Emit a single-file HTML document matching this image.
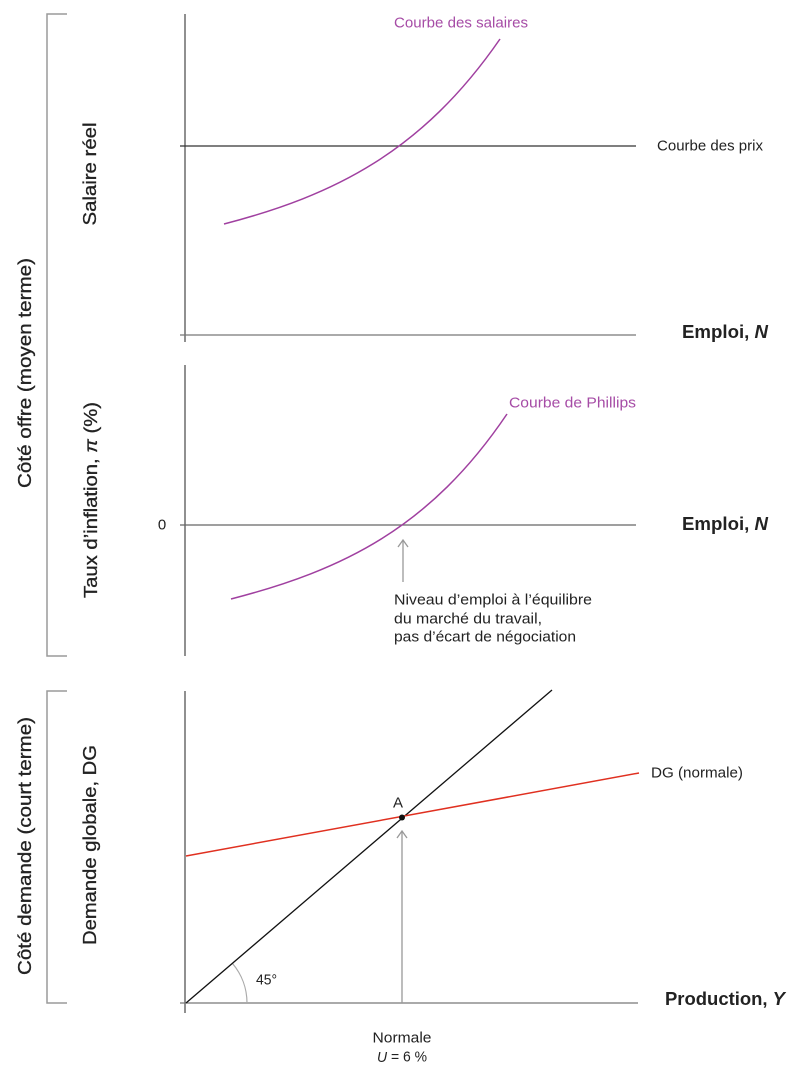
<!DOCTYPE html>
<html><head><meta charset="utf-8"><style>
html,body{margin:0;padding:0;background:#fff;}
svg{display:block;}
text{font-family:"Liberation Sans",sans-serif;}
</style></head><body>
<svg width="810" height="1082" viewBox="0 0 810 1082" xmlns="http://www.w3.org/2000/svg">
<!-- brackets -->
<path d="M67,14 H47 V656 H67" fill="none" stroke="#9a9a9a" stroke-width="1.5"/>
<path d="M67,691 H47 V1003 H67" fill="none" stroke="#9a9a9a" stroke-width="1.5"/>

<!-- side labels -->
<text x="25" y="373" transform="rotate(-90 25 373)" text-anchor="middle" dominant-baseline="central" font-size="18" fill="#222" stroke="#222" stroke-width="0.3" textLength="230" lengthAdjust="spacingAndGlyphs">Côté offre (moyen terme)</text>
<text x="25" y="846" transform="rotate(-90 25 846)" text-anchor="middle" dominant-baseline="central" font-size="18" fill="#222" stroke="#222" stroke-width="0.3" textLength="258" lengthAdjust="spacingAndGlyphs">Côté demande (court terme)</text>
<text x="90" y="174" transform="rotate(-90 90 174)" text-anchor="middle" dominant-baseline="central" font-size="18" fill="#222" stroke="#222" stroke-width="0.3" textLength="103" lengthAdjust="spacingAndGlyphs">Salaire réel</text>
<text x="91" y="500" transform="rotate(-90 91 500)" text-anchor="middle" dominant-baseline="central" font-size="18" fill="#222" stroke="#222" stroke-width="0.3" textLength="196" lengthAdjust="spacingAndGlyphs">Taux d’inflation, <tspan font-style="italic">π</tspan> (%)</text>
<text x="90" y="845" transform="rotate(-90 90 845)" text-anchor="middle" dominant-baseline="central" font-size="18" fill="#222" stroke="#222" stroke-width="0.3" textLength="200" lengthAdjust="spacingAndGlyphs">Demande globale, DG</text>

<!-- Panel 1 -->
<line x1="185" y1="14" x2="185" y2="342" stroke="#555" stroke-width="1.3"/>
<line x1="180" y1="335" x2="636" y2="335" stroke="#777" stroke-width="1.3"/>
<line x1="180" y1="146" x2="636" y2="146" stroke="#333" stroke-width="1.3"/>
<path d="M224,224 C334,195.4 422,152 500,39" fill="none" stroke="#a040a0" stroke-width="1.5"/>
<text x="394" y="23" dominant-baseline="central" font-size="15" fill="#a64ca6" textLength="134" lengthAdjust="spacingAndGlyphs">Courbe des salaires</text>
<text x="657" y="146" dominant-baseline="central" font-size="15" fill="#222" textLength="106" lengthAdjust="spacingAndGlyphs">Courbe des prix</text>
<text x="682" y="332" dominant-baseline="central" font-size="18" font-weight="bold" fill="#222" textLength="86" lengthAdjust="spacingAndGlyphs">Emploi, <tspan font-style="italic">N</tspan></text>

<!-- Panel 2 -->
<line x1="185" y1="365" x2="185" y2="656" stroke="#555" stroke-width="1.3"/>
<line x1="180" y1="525" x2="636" y2="525" stroke="#666" stroke-width="1.3"/>
<text x="162" y="525" text-anchor="middle" dominant-baseline="central" font-size="15" fill="#222">0</text>
<path d="M231,599 C343,570 430,528 507,414" fill="none" stroke="#a040a0" stroke-width="1.5"/>
<text x="509" y="403" dominant-baseline="central" font-size="15" fill="#a64ca6" textLength="127" lengthAdjust="spacingAndGlyphs">Courbe de Phillips</text>
<line x1="403" y1="541" x2="403" y2="582" stroke="#999" stroke-width="1.3"/>
<path d="M398,547 L403,540 L408,547" fill="none" stroke="#999" stroke-width="1.3"/>
<text x="394" y="600" dominant-baseline="central" font-size="15" fill="#222" textLength="198" lengthAdjust="spacingAndGlyphs">Niveau d’emploi à l’équilibre</text>
<text x="394" y="619" dominant-baseline="central" font-size="15" fill="#222" textLength="148" lengthAdjust="spacingAndGlyphs">du marché du travail,</text>
<text x="394" y="637" dominant-baseline="central" font-size="15" fill="#222" textLength="182" lengthAdjust="spacingAndGlyphs">pas d’écart de négociation</text>
<text x="682" y="524" dominant-baseline="central" font-size="18" font-weight="bold" fill="#222" textLength="86" lengthAdjust="spacingAndGlyphs">Emploi, <tspan font-style="italic">N</tspan></text>

<!-- Panel 3 -->
<line x1="185" y1="691" x2="185" y2="1013" stroke="#555" stroke-width="1.3"/>
<line x1="180" y1="1003" x2="638" y2="1003" stroke="#777" stroke-width="1.3"/>
<path d="M247,1003 A61,61 0 0 0 232.4,963.4" fill="none" stroke="#aaa" stroke-width="1.2"/>
<line x1="186" y1="1003" x2="552" y2="690" stroke="#111" stroke-width="1.3"/>
<line x1="186" y1="856" x2="639" y2="773" stroke="#e03020" stroke-width="1.5"/>
<line x1="402" y1="832" x2="402" y2="1003" stroke="#999" stroke-width="1.3"/>
<path d="M397,838 L402,831 L407,838" fill="none" stroke="#999" stroke-width="1.3"/>
<circle cx="402" cy="817.5" r="3" fill="#111"/>
<text x="398" y="803" text-anchor="middle" dominant-baseline="central" font-size="15" fill="#222">A</text>
<text x="256" y="980" dominant-baseline="central" font-size="15" fill="#222" textLength="21" lengthAdjust="spacingAndGlyphs">45°</text>
<text x="651" y="773" dominant-baseline="central" font-size="15" fill="#222" textLength="92" lengthAdjust="spacingAndGlyphs">DG (normale)</text>
<text x="665" y="999" dominant-baseline="central" font-size="18" font-weight="bold" fill="#222" textLength="120" lengthAdjust="spacingAndGlyphs">Production, <tspan font-style="italic">Y</tspan></text>
<text x="402" y="1038" text-anchor="middle" dominant-baseline="central" font-size="15" fill="#222" textLength="59" lengthAdjust="spacingAndGlyphs">Normale</text>
<text x="402" y="1057" text-anchor="middle" dominant-baseline="central" font-size="15" fill="#222" textLength="50" lengthAdjust="spacingAndGlyphs"><tspan font-style="italic">U</tspan> = 6 %</text>
</svg>
</body></html>
